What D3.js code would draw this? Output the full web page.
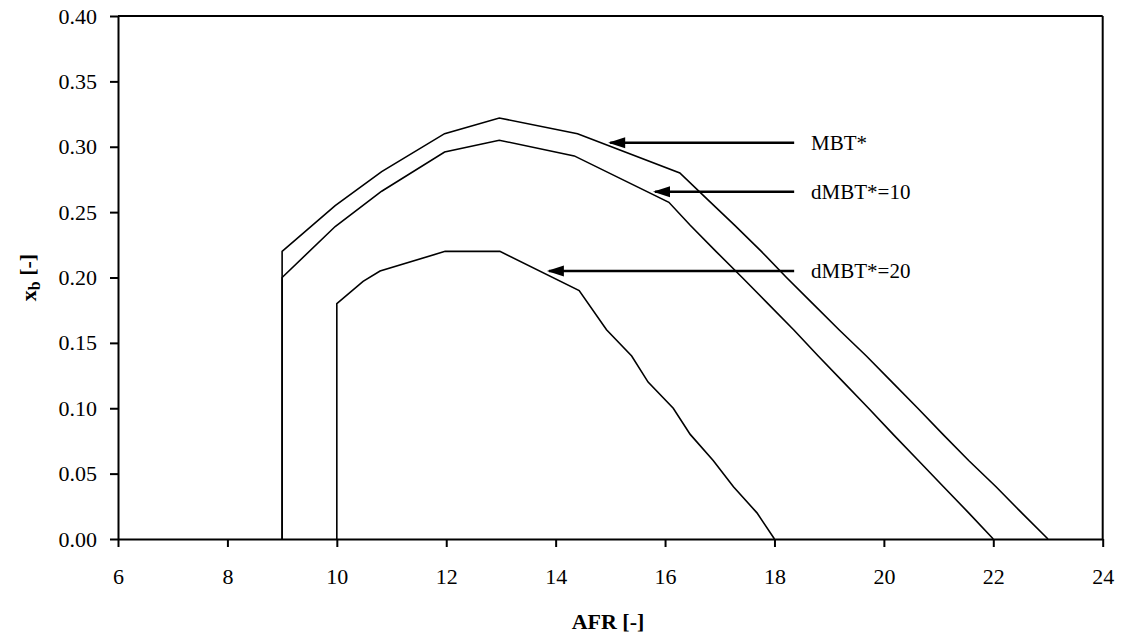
<!DOCTYPE html>
<html>
<head>
<meta charset="utf-8">
<script src="https://cdn.jsdelivr.net/npm/d3@7"></script>
<style>
  body { margin: 0; background: #fff; }
  svg { display: block; }
  text { font-family: "Liberation Serif", "Times New Roman", serif; fill: #000; }
</style>
</head>
<body>
<svg id="chart" width="1123" height="644"></svg>
<script>
// ---- Data (AFR [-], x_b [-]) ----
const mbtAFR = [9, 9, 9.97, 10.82, 11.97, 12.97, 14.40, 16.27, 16.77, 17.27, 17.76, 18.22, 18.70, 19.18, 19.68, 20.15, 20.62, 21.08, 21.55, 22.05, 22.52, 23];
const mbtXb  = [0, 0.22, 0.255, 0.281, 0.310, 0.322, 0.310, 0.280, 0.26, 0.24, 0.22, 0.20, 0.18, 0.16, 0.14, 0.12, 0.10, 0.08, 0.06, 0.04, 0.02, 0];

const d10AFR = [9, 9, 9.97, 10.82, 11.97, 12.97, 14.34, 16.07, 16.46, 16.93, 17.41, 17.88, 18.35, 18.80, 19.26, 19.72, 20.17, 20.63, 21.09, 21.55, 22];
const d10Xb  = [0, 0.20, 0.239, 0.266, 0.296, 0.305, 0.293, 0.2575, 0.24, 0.22, 0.20, 0.18, 0.16, 0.14, 0.12, 0.10, 0.08, 0.06, 0.04, 0.02, 0];

const d20AFR = [10, 10, 10.48, 10.79, 11.98, 12.98, 14.43, 14.93, 15.39, 15.69, 16.15, 16.46, 16.88, 17.25, 17.68, 18];
const d20Xb  = [0, 0.18, 0.197, 0.205, 0.220, 0.220, 0.19, 0.16, 0.14, 0.12, 0.10, 0.08, 0.06, 0.04, 0.02, 0];

// annotations: label, arrow tip (AFR, xb), arrow tail AFR, label AFR
const annLabels = ["MBT*", "dMBT*=10", "dMBT*=20"];
const annTipAFR = [14.96, 15.78, 13.84];
const annXb     = [0.303, 0.2655, 0.205];
const annTailAFR = 18.36;
const annTextAFR = 18.67;

const xTicks = [6, 8, 10, 12, 14, 16, 18, 20, 22, 24];
const yTicks = [0, 0.05, 0.10, 0.15, 0.20, 0.25, 0.30, 0.35, 0.40];

// ---- Layout ----
const svg = d3.select("#chart");
const L = 118, R = 1102.7, T = 16, B = 539;

const x = d3.scaleLinear().domain([6, 24]).range([L, R]);
const y = d3.scaleLinear().domain([0, 0.40]).range([B, T]);

// frame (top and right borders)
svg.append("line").attr("x1", L).attr("x2", R).attr("y1", T).attr("y2", T)
  .attr("stroke", "#000").attr("stroke-width", 2);
svg.append("line").attr("x1", R).attr("x2", R).attr("y1", T).attr("y2", B)
  .attr("stroke", "#000").attr("stroke-width", 2);

// axes
const xAxis = d3.axisBottom(x).tickValues(xTicks).tickFormat(d3.format("d")).tickSize(8).tickSizeOuter(0).tickPadding(21);
const yAxis = d3.axisLeft(y).tickValues(yTicks).tickFormat(d3.format(".2f")).tickSize(8).tickSizeOuter(0).tickPadding(13);

const gx = svg.append("g").attr("transform", `translate(0,${B})`).call(xAxis);
const gy = svg.append("g").attr("transform", `translate(${L},0)`).call(yAxis);
[gx, gy].forEach(g => {
  g.select(".domain").attr("stroke", "#000").attr("stroke-width", 2);
  g.selectAll(".tick line").attr("stroke", "#000").attr("stroke-width", 2);
  g.selectAll(".tick text").style("font-family", "'Liberation Serif', serif").style("font-size", "22px").attr("fill", "#222");
});

// curves
const line = d3.line().x(d => x(d[0])).y(d => y(d[1]));
const series = [
  d3.zip(mbtAFR, mbtXb),
  d3.zip(d10AFR, d10Xb),
  d3.zip(d20AFR, d20Xb)
];
svg.append("g").selectAll("path").data(series).join("path")
  .attr("d", line).attr("fill", "none").attr("stroke", "#000")
  .attr("stroke-width", 1.6).attr("stroke-linejoin", "miter");

const ann = svg.append("g");
annLabels.forEach((lab, i) => {
  ann.append("line")
    .attr("x1", x(annTipAFR[i]) + 2).attr("x2", x(annTailAFR))
    .attr("y1", y(annXb[i])).attr("y2", y(annXb[i]))
    .attr("stroke", "#000").attr("stroke-width", 2.5);
  ann.append("path")
    .attr("d", `M${x(annTipAFR[i])},${y(annXb[i])} l17,-5.5 l0,11 Z`)
    .attr("fill", "#000");
  ann.append("text")
    .attr("x", x(annTextAFR)).attr("y", y(annXb[i])).attr("dy", "0.35em")
    .style("font-size", "21px").attr("fill", "#222").text(lab);
});

// axis titles
svg.append("text").attr("x", 608).attr("y", 629)
  .attr("text-anchor", "middle").style("font-size", "22px").style("font-weight", "bold")
  .text("AFR [-]");

const yt = svg.append("text").attr("transform", `translate(36,${(T + B) / 2}) rotate(-90)`)
  .attr("text-anchor", "middle").style("font-size", "22px").style("font-weight", "bold");
yt.append("tspan").text("x");
yt.append("tspan").attr("dy", "0.25em").style("font-size", "16px").text("b");
yt.append("tspan").attr("dy", "-0.25em").text(" [-]");
</script>
</body>
</html>
